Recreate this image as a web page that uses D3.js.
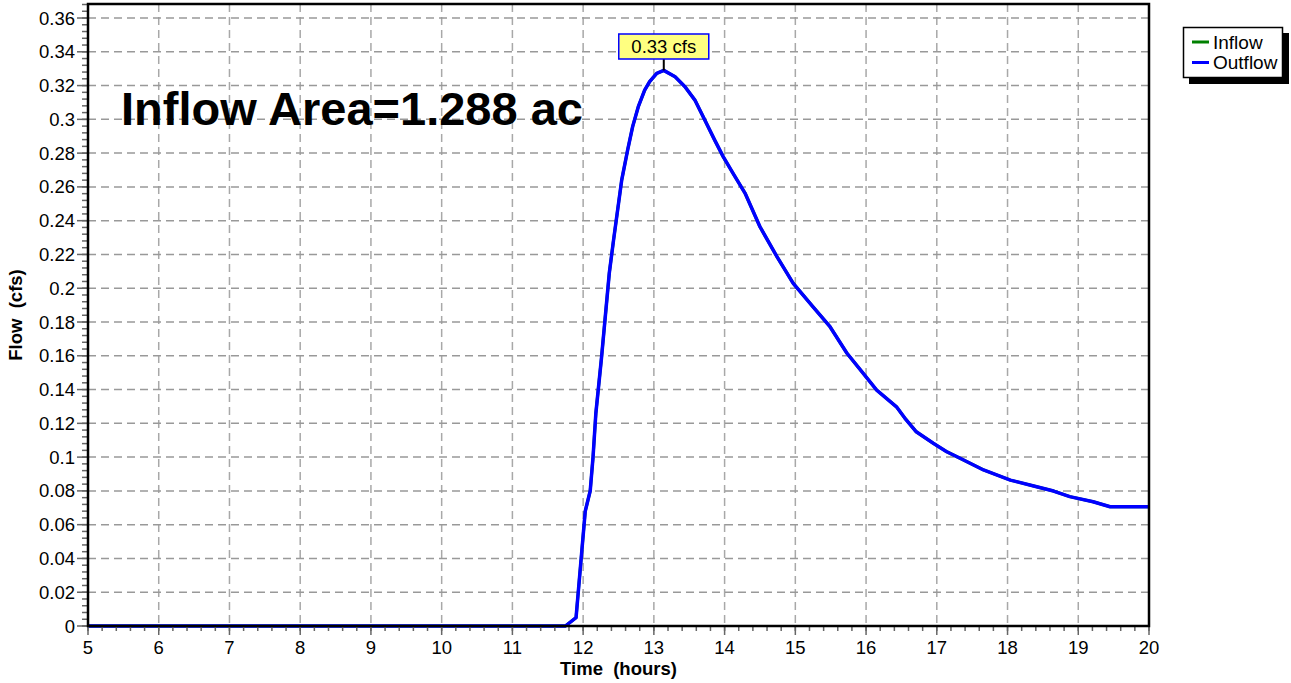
<!DOCTYPE html>
<html><head><meta charset="utf-8">
<script src="https://cdn.jsdelivr.net/npm/d3@7"></script>
<style>
html,body{margin:0;padding:0;background:#fff;}
svg{display:block;font-family:"Liberation Sans",Arial,sans-serif;}
</style></head>
<body>
<svg id="c" width="1291" height="683"></svg>
<script>
const hours = [5, 11.75, 11.9, 12.03, 12.1, 12.14, 12.18, 12.26, 12.37, 12.43, 12.545, 12.63, 12.7, 12.78, 12.87, 12.94, 13.04, 13.14, 13.3, 13.44, 13.58, 13.72, 13.86, 13.98, 14.12, 14.29, 14.5, 14.74, 14.97, 15.25, 15.49, 15.73, 15.96, 16.15, 16.43, 16.55, 16.71, 16.95, 17.14, 17.33, 17.66, 18.04, 18.37, 18.65, 18.88, 19.21, 19.45, 20];
const outflow = [0, 0, 0.005, 0.068, 0.080, 0.100, 0.126, 0.159, 0.209, 0.2285, 0.264, 0.282, 0.2957, 0.3075, 0.3173, 0.3223, 0.3272, 0.329, 0.3252, 0.3193, 0.3114, 0.2996, 0.2877, 0.2779, 0.268, 0.2562, 0.2364, 0.2187, 0.2029, 0.189, 0.1772, 0.1615, 0.1496, 0.1397, 0.1298, 0.123, 0.115, 0.1082, 0.1032, 0.0993, 0.0924, 0.0864, 0.0829, 0.0799, 0.0766, 0.0736, 0.0706, 0.0706];
const inflow = outflow.slice();
const xTicks = [5,6,7,8,9,10,11,12,13,14,15,16,17,18,19,20];
const yTicks = [0,0.02,0.04,0.06,0.08,0.1,0.12,0.14,0.16,0.18,0.2,0.22,0.24,0.26,0.28,0.3,0.32,0.34,0.36];
const seriesNames = ["Inflow","Outflow"];
const seriesColors = ["#008000","#0000ff"];
const peakValue = 0.329, peakTime = 13.14, peakLabel = "0.33 cfs";
const titleText = "Inflow Area=1.288 ac";

const svg = d3.select("#c");
const L=88, R=1149, T=4, B=626;
const x = d3.scaleLinear().domain([5,20]).range([L,R]);
const y = d3.scaleLinear().domain([0,0.3683]).range([B,T]);

// grid
const g = svg.append("g");
g.selectAll("line.vg").data(xTicks.slice(1,-1)).enter().append("line")
 .attr("x1",d=>x(d)).attr("x2",d=>x(d)).attr("y1",T).attr("y2",B)
 .attr("stroke","#a8a8a8").attr("stroke-width",1.5).attr("stroke-dasharray","8,5");
g.selectAll("line.hg").data(yTicks.slice(1)).enter().append("line")
 .attr("x1",L).attr("x2",R).attr("y1",d=>y(d)).attr("y2",d=>y(d))
 .attr("stroke","#999").attr("stroke-width",1.5).attr("stroke-dasharray","8,5");

// title
svg.append("text").attr("x",121).attr("y",125).attr("font-size",47).attr("font-weight","bold")
 .attr("fill","#000").text(titleText);

// series
const pts = hours.map((h,i)=>[h,outflow[i]]);
const ptsIn = hours.map((h,i)=>[h,inflow[i]]);
const line = d3.line().x(d=>x(d[0])).y(d=>y(d[1]));
svg.append("path").attr("d",line(ptsIn)).attr("fill","none").attr("stroke",seriesColors[0]).attr("stroke-width",3);
svg.append("path").attr("d",line(pts)).attr("fill","none").attr("stroke",seriesColors[1]).attr("stroke-width",3.5).attr("stroke-linejoin","round");

// axes ticks
const xMinor = d3.range(5,20.001,0.2);
svg.selectAll("line.xm").data(xMinor).enter().append("line")
 .attr("x1",d=>x(d)).attr("x2",d=>x(d)).attr("y1",B).attr("y2",B+5).attr("stroke","#666").attr("stroke-width",1.5);
svg.selectAll("line.xM").data(xTicks).enter().append("line")
 .attr("x1",d=>x(d)).attr("x2",d=>x(d)).attr("y1",B).attr("y2",B+9).attr("stroke","#666").attr("stroke-width",1.5);
svg.selectAll("text.xl").data(xTicks).enter().append("text")
 .attr("x",d=>x(d)).attr("y",654).attr("text-anchor","middle").attr("font-size",18.5).text(d=>d);

const yMinor = d3.range(0,0.3683,0.004);
svg.selectAll("line.ym").data(yMinor).enter().append("line")
 .attr("x1",L-6).attr("x2",L).attr("y1",d=>y(d)).attr("y2",d=>y(d)).attr("stroke","#666").attr("stroke-width",1.5);
svg.selectAll("line.yM").data(yTicks).enter().append("line")
 .attr("x1",L-11).attr("x2",L).attr("y1",d=>y(d)).attr("y2",d=>y(d)).attr("stroke","#666").attr("stroke-width",1.5);
svg.selectAll("text.yl").data(yTicks).enter().append("text")
 .attr("x",75).attr("y",d=>y(d)+6.5).attr("text-anchor","end").attr("font-size",18.5).text(d=>d3.format("")(+d.toFixed(2)));

// frame
svg.append("rect").attr("x",L).attr("y",T).attr("width",R-L).attr("height",B-T)
 .attr("fill","none").attr("stroke","#000").attr("stroke-width",2.5);

// axis titles
svg.append("text").attr("x",(L+R)/2).attr("y",675).attr("text-anchor","middle").attr("font-size",18.5)
 .attr("font-weight","bold").style("white-space","pre").text("Time  (hours)");
svg.append("text").attr("transform",`translate(22,${(T+B)/2}) rotate(-90)`).attr("text-anchor","middle")
 .attr("font-size",18.5).attr("font-weight","bold").style("white-space","pre").text("Flow  (cfs)");

// peak label
const px = x(peakTime), py = y(peakValue);
svg.append("line").attr("x1",px).attr("x2",px).attr("y1",59).attr("y2",py).attr("stroke","#000").attr("stroke-width",2);
svg.append("rect").attr("x",px-45).attr("y",34).attr("width",90).attr("height",25)
 .attr("fill","#ffff80").attr("stroke","#0000ff").attr("stroke-width",1.5);
svg.append("text").attr("x",px).attr("y",53).attr("text-anchor","middle").attr("font-size",18.5).text(peakLabel);

// legend
const lg = svg.append("g");
lg.append("rect").attr("x",1189).attr("y",33).attr("width",100).attr("height",51).attr("fill","#000");
lg.append("rect").attr("x",1183.5).attr("y",27.5).attr("width",99).attr("height",50).attr("fill","#fff").attr("stroke","#000").attr("stroke-width",1.5);
seriesNames.forEach((n,i)=>{
  const yy = 42 + i*20.5;
  lg.append("line").attr("x1",1192).attr("x2",1209).attr("y1",yy).attr("y2",yy).attr("stroke",seriesColors[i]).attr("stroke-width",3);
  lg.append("text").attr("x",1213).attr("y",yy+6.5).attr("font-size",19).text(n);
});
</script>
</body></html>
